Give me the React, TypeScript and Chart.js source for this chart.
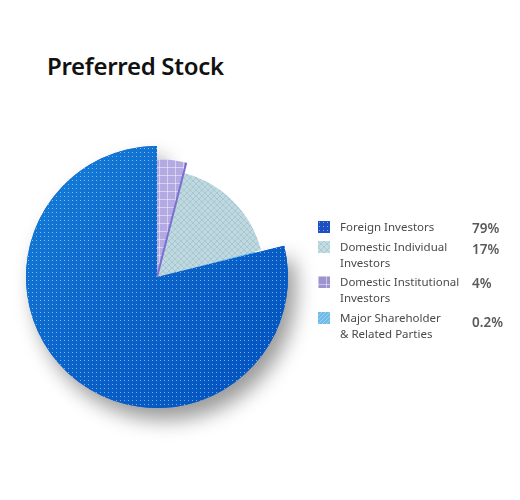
import { useEffect, useRef } from 'react';
import Chart from 'chart.js/auto';

// holder groups, in legend order
const categories = [
  'Foreign Investors',
  'Domestic Individual\nInvestors',
  'Domestic Institutional\nInvestors',
  'Major Shareholder\n& Related Parties',
];
const shares = [79, 17, 4, 0.2];
const shareLabels = ['79%', '17%', '4%', '0.2%'];
// clockwise order of the slices starting at 12 o'clock (indexes into the arrays above)
const pieOrder = [2, 1, 3, 0];

const sliceColors = ['#0a63c9', '#c0d9e1', '#b3aae3', '#4ea9e3'];
const swatchColors = ['#1a50c2', '#c4dce4', '#9d93cf', '#6cbbea'];
const sliceScale = [1, 0.82, 0.9, 0.77];

function makePattern(kind: string): CanvasPattern | null {
  const c = document.createElement('canvas');
  const g = c.getContext('2d');
  if (!g) return null;
  if (kind === 'dots') {
    c.width = 4; c.height = 4;
    g.fillStyle = 'rgba(255,255,255,0.5)';
    g.fillRect(1, 1, 1, 1);
  } else if (kind === 'cross') {
    c.width = 6; c.height = 6;
    g.strokeStyle = 'rgba(120,165,180,0.35)';
    g.lineWidth = 1;
    g.beginPath();
    g.moveTo(0, 0); g.lineTo(6, 6);
    g.moveTo(6, 0); g.lineTo(0, 6);
    g.stroke();
  } else if (kind === 'grid') {
    c.width = 8; c.height = 8;
    g.fillStyle = 'rgba(255,255,255,0.45)';
    g.fillRect(0, 0, 8, 1);
    g.fillRect(0, 0, 1, 8);
  } else {
    c.width = 4; c.height = 4;
    g.strokeStyle = 'rgba(255,255,255,0.35)';
    g.beginPath();
    g.moveTo(0, 4); g.lineTo(4, 0);
    g.stroke();
  }
  return g.createPattern(c, 'repeat');
}

const slicePatterns = ['dots', 'cross', 'grid', 'stripes'];

function Swatch({ index }: { index: number }) {
  const ref = useRef<HTMLCanvasElement>(null);
  useEffect(() => {
    const g = ref.current?.getContext('2d');
    if (!g) return;
    g.fillStyle = swatchColors[index];
    g.fillRect(0, 0, 12, 12);
    const p = makePattern(slicePatterns[index]);
    if (p) {
      g.fillStyle = p;
      g.fillRect(0, 0, 12, 12);
    }
  }, [index]);
  return <canvas ref={ref} width={12} height={12} style={{ position: 'absolute', left: 0, top: 0 }} />;
}

export default function App() {
  const canvasRef = useRef<HTMLCanvasElement>(null);

  useEffect(() => {
    if (!canvasRef.current) return;
    const ctx = canvasRef.current.getContext('2d');
    if (!ctx) return;

    const arcPath = (g: CanvasRenderingContext2D, el: any) => {
      g.beginPath();
      g.moveTo(el.x, el.y);
      g.arc(el.x, el.y, el.outerRadius, el.startAngle, el.endAngle);
      g.closePath();
    };

    const slicePlugin = {
      id: 'sliceStyle',
      beforeDatasetsDraw(chart: any) {
        const meta = chart.getDatasetMeta(0);
        const base = meta.controller.outerRadius;
        meta.data.forEach((el: any, i: number) => {
          el.outerRadius = base * sliceScale[pieOrder[i]];
        });
        // soft shadow under the big slice
        const g = chart.ctx;
        const big = meta.data[pieOrder.indexOf(0)];
        g.save();
        g.shadowColor = 'rgba(0,0,0,0.4)';
        g.shadowBlur = 20;
        g.shadowOffsetX = 8;
        g.shadowOffsetY = 12;
        g.fillStyle = '#0a5fc8';
        arcPath(g, big);
        g.fill();
        g.restore();
      },
      afterDatasetsDraw(chart: any) {
        const meta = chart.getDatasetMeta(0);
        const g = chart.ctx;
        meta.data.forEach((el: any, i: number) => {
          const p = makePattern(slicePatterns[pieOrder[i]]);
          if (!p) return;
          g.save();
          g.fillStyle = p;
          arcPath(g, el);
          g.fill();
          if (pieOrder[i] === 2) {
            // darker edge on the purple slice
            g.strokeStyle = '#7b6dd0';
            g.lineWidth = 2;
            g.beginPath();
            g.moveTo(el.x, el.y);
            g.lineTo(el.x + Math.cos(el.endAngle) * el.outerRadius, el.y + Math.sin(el.endAngle) * el.outerRadius);
            g.stroke();
          }
          g.restore();
        });
      },
    };

    const chart = new Chart(ctx, {
      type: 'pie',
      data: {
        labels: pieOrder.map((i) => categories[i].replace('\n', ' ')),
        datasets: [{
          data: pieOrder.map((i) => shares[i]),
          backgroundColor: (c: any) => {
            const idx = pieOrder[c.dataIndex];
            if (idx !== 0 || !c.chart.chartArea) return sliceColors[idx];
            const a = c.chart.chartArea;
            const grad = c.chart.ctx.createLinearGradient(a.left, a.top, a.right, a.bottom);
            grad.addColorStop(0, '#1680da');
            grad.addColorStop(0.5, '#0a63c9');
            grad.addColorStop(1, '#0050bd');
            return grad;
          },
          borderWidth: 0,
        }],
      },
      options: {
        animation: false,
        responsive: false,
        events: [],
        layout: { padding: { left: 19, top: 19, right: 39, bottom: 39 } },
        plugins: {
          legend: { display: false },
          tooltip: { enabled: false },
        },
      },
      plugins: [slicePlugin],
    });

    return () => chart.destroy();
  }, []);

  const rowTops = [220, 240, 275, 311];
  const pctTops = [219, 240, 274, 313];

  return (
    <div style={{ position: 'absolute', left: 0, top: 0, width: 520, height: 500, background: '#fff', fontFamily: '"Noto Sans", sans-serif' }}>
      <div style={{ position: 'absolute', left: 47, top: 49, fontSize: 24, fontWeight: 600, color: '#111', letterSpacing: -0.3 }}>
        Preferred Stock
      </div>
      <canvas ref={canvasRef} width={320} height={320} style={{ position: 'absolute', left: 7, top: 127 }} />
      {categories.map((cat, i) => (
        <div key={cat}>
          <div style={{ position: 'absolute', left: 318, top: rowTops[i] + 1, width: 12, height: 12 }}>
            <Swatch index={i} />
          </div>
          <div style={{ position: 'absolute', left: 340, top: rowTops[i] - 1, fontSize: 11.5, lineHeight: '16px', color: '#4a4a4a', whiteSpace: 'pre-line' }}>
            {cat}
          </div>
          <div style={{ position: 'absolute', left: 472, top: pctTops[i], fontSize: 13.5, fontWeight: 600, color: '#5a5a5a' }}>
            {shareLabels[i]}
          </div>
        </div>
      ))}
    </div>
  );
}
